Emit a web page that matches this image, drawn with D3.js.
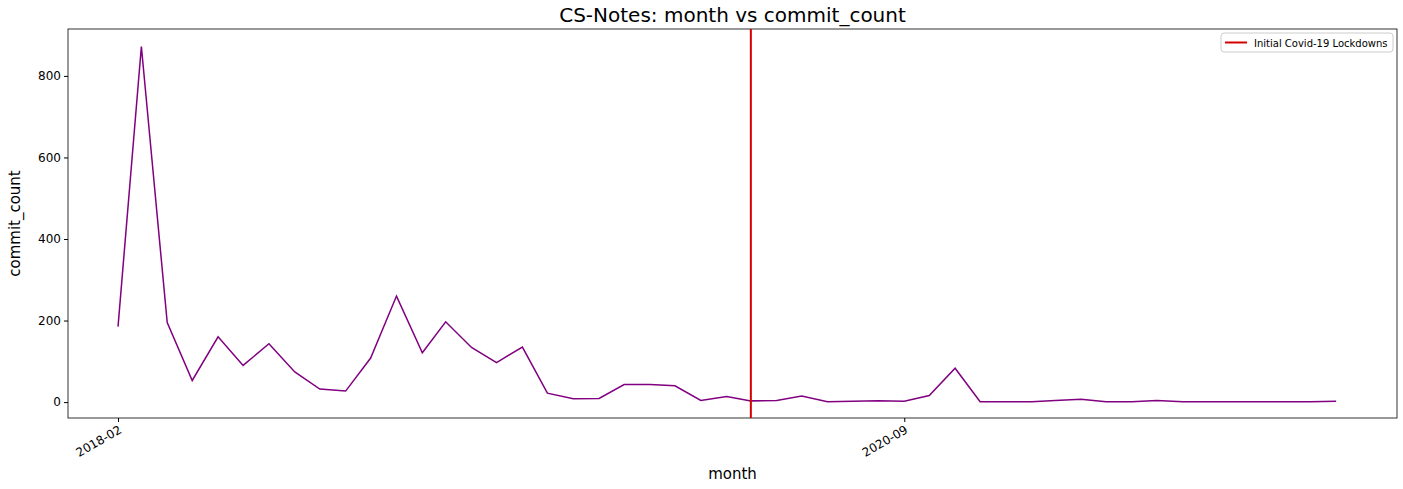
<!DOCTYPE html>
<html><head><meta charset="utf-8">
<script src="https://cdn.jsdelivr.net/npm/d3@7"></script>
<style>body{margin:0;background:#fff;font-family:"DejaVu Sans",sans-serif}</style>
</head><body><svg id="c" width="1403" height="489"></svg>
<script>
const startMonth = "2018-02";
const commitCounts = [185,872,195,53,160,90,143,74,32,27,108,260,121,197,134,97,135,22,8,9,43,43,40,4,14,3,4,15,1,2,3,2,16,83,1,1,1,4,7,1,1,4,1,1,1,1,1,1,2];
const tickLabels = ["2018-02","2020-09"];
const eventDate = "2020-03";
const eventLabel = "Initial Covid-19 Lockdowns";

const parse = d3.timeParse("%Y-%m");
const s = parse(startMonth);
const data = commitCounts.map((v,i)=>({d:d3.timeMonth.offset(s,i),v}));

const svg = d3.select("#c");
const L=68,R=1397,T=29,B=418;
const x = d3.scaleTime().domain([d3.timeDay.offset(s,-60), d3.timeDay.offset(data[data.length-1].d,73)]).range([L,R]);
const y = d3.scaleLinear().domain([-39,915]).range([B,T]);

const xa = svg.append("g").attr("transform",`translate(0,${B})`)
  .call(d3.axisBottom(x).tickValues(tickLabels.map(parse)).tickFormat(d3.timeFormat("%Y-%m")).tickSizeOuter(0).tickSize(4));
xa.selectAll("text").attr("font-size",12).attr("font-family","DejaVu Sans").attr("fill","#000")
  .attr("text-anchor","end").attr("transform","rotate(-30)").attr("dx","-0.3em").attr("dy","0.6em");
const ya = svg.append("g").attr("transform",`translate(${L},0)`)
  .call(d3.axisLeft(y).tickValues([0,200,400,600,800]).tickSizeOuter(0).tickSize(4));
ya.selectAll("text").attr("font-size",12).attr("font-family","DejaVu Sans").attr("fill","#000");
svg.selectAll(".domain").remove();
svg.append("rect").attr("x",L).attr("y",T).attr("width",R-L).attr("height",B-T).attr("fill","none").attr("stroke","#000").attr("stroke-width",0.8);

svg.append("path").datum(data).attr("fill","none").attr("stroke","purple").attr("stroke-width",1.5)
  .attr("d",d3.line().x(d=>x(d.d)).y(d=>y(d.v)));
const ex = x(parse(eventDate));
svg.append("line").attr("x1",ex).attr("x2",ex).attr("y1",T).attr("y2",B).attr("stroke","#d40000").attr("stroke-width",2);

svg.append("text").attr("x",(L+R)/2).attr("y",22).attr("text-anchor","middle").attr("font-size",20).text("CS-Notes: month vs commit_count");
svg.append("text").attr("x",(L+R)/2).attr("y",479).attr("text-anchor","middle").attr("font-size",15).text("month");
svg.append("text").attr("transform",`translate(20,${(T+B)/2}) rotate(-90)`).attr("text-anchor","middle").attr("font-size",15).text("commit_count");

const lg = svg.append("g").attr("transform","translate(1221,33)");
lg.append("rect").attr("width",172).attr("height",19).attr("rx",3).attr("fill","#fff").attr("stroke","#ccc");
lg.append("line").attr("x1",4).attr("x2",26).attr("y1",9.5).attr("y2",9.5).attr("stroke","#d40000").attr("stroke-width",2);
lg.append("text").attr("x",33).attr("y",13.5).attr("font-size",10).text(eventLabel);
</script></body></html>
